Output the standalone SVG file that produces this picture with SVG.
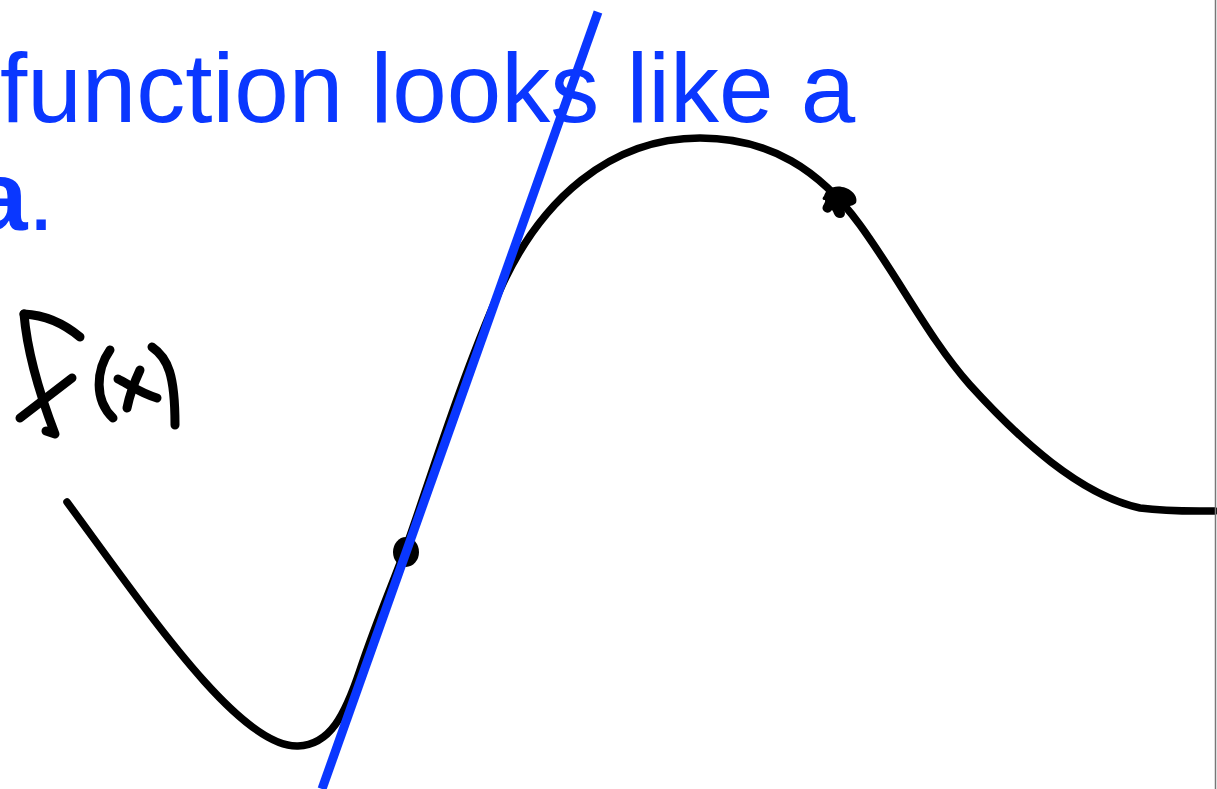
<svg xmlns="http://www.w3.org/2000/svg" width="1217" height="789" viewBox="0 0 1217 789">
<style>
.t{font-family:"Liberation Sans",Arial,sans-serif;font-size:98px;fill:#0a37ff}
.ink{fill:none;stroke:#000;stroke-width:7.5;stroke-linecap:round;stroke-linejoin:round}
.hand{fill:none;stroke:#000;stroke-width:9;stroke-linecap:round;stroke-linejoin:round}
.blue{fill:none;stroke:#0a37ff;stroke-width:9}
</style>
<rect width="1217" height="789" fill="#fff"/>
<g id="caption">
<text class="t" x="0" y="122">function looks like a</text>
<text class="t" x="-27" y="230"><tspan font-weight="bold">a</tspan>.</text>
</g>
<g id="label-fx" class="hand">
<path d="M80 337 C 62 322 45 315 24 314"/>
<path d="M24 314 C 27 350 40 395 55 434 L 46 431"/>
<path d="M20 418 L 72 378"/>
<path d="M110 350 C 96 370 94 400 113 418"/>
<path d="M140 370 C 133 385 129 398 127 408"/>
<path d="M118 379 C 128 384 140 393 157 398"/>
<path d="M152 347 C 168 358 175 375 175 425"/>
</g>
<g id="curve">
<path class="ink" d="M67 502 C 150 615 240 748 298 746 C 330 745 345 715 360 670 C 375 625 390 590 405 550 C 425 495 460 380 500 290 C 540 200 610 138 700 138 C 770 138 820 170 860 225 C 900 280 930 340 970 385 C 1020 440 1080 495 1140 508 C 1170 512 1200 511 1215 511"/>
</g>
<g id="point-a">
<ellipse cx="406" cy="552" rx="13" ry="15" fill="#000"/>
</g>
<g id="point-b">
<path d="M824 196 C 826 188 836 184 846 188 C 854 191 858 198 856 203 C 852 207 846 206 843 207 C 846 212 846 218 840 218 C 834 218 834 212 832 210 C 830 213 826 214 823 210 C 821 206 826 203 825 200 C 822 200 822 198 824 196 Z" fill="#000"/>
</g>
<g id="tangent">
<line class="blue" x1="598" y1="12" x2="322" y2="789"/>
</g>
<g id="frame">
<line x1="1215.5" y1="0" x2="1215.5" y2="789" stroke="#777" stroke-width="1.5"/>
</g>
</svg>
